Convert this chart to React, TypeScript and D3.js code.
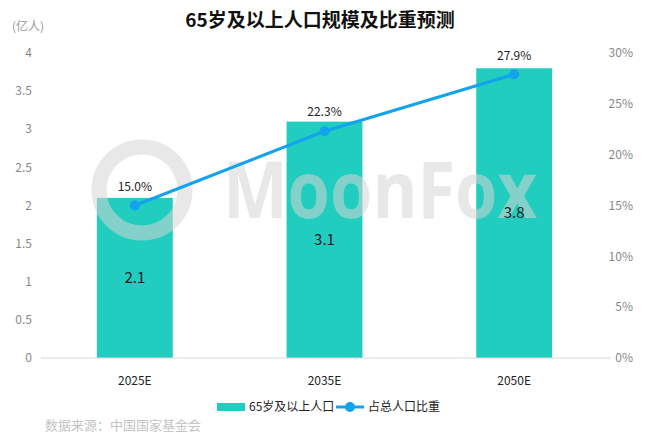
import * as d3 from "d3";

const categories = ["2025E", "2035E", "2050E"];
const population = [2.1, 3.1, 3.8]; // 亿人
const share = [15.0, 22.3, 27.9]; // %
const leftTicks = [0, 0.5, 1, 1.5, 2, 2.5, 3, 3.5, 4];
const rightTicks = [0, 5, 10, 15, 20, 25, 30];

const W = 651;
const H = 442;
const BAR = "#21cdbf";
const LINE = "#12a2ee";
const FONT = "'Noto Sans CJK SC', 'Open Sans', sans-serif";

export default function App() {
  const x = d3.scaleBand<string>().domain(categories).range([40, 609]).paddingInner(0.6).paddingOuter(0.3);
  const yL = d3.scaleLinear().domain([0, 4]).range([358, 53]);
  const yR = d3.scaleLinear().domain([0, 30]).range([358, 53]);
  const cx = (c: string) => (x(c) ?? 0) + x.bandwidth() / 2;

  const line = d3
    .line<number>()
    .x((_, i) => cx(categories[i]))
    .y((d) => yR(d));

  return (
    <svg
      width={W}
      height={H}
      style={{ position: "absolute", left: 0, top: 0, fontFamily: FONT }}
    >
      <rect width={W} height={H} fill="#fff" />

      <text x={320} y={27} textAnchor="middle" fontSize={19} fontWeight="bold" fill="#111">
        65岁及以上人口规模及比重预测
      </text>
      <text x={12} y={31} fontSize={12} fill="#999">
        (亿人)
      </text>

      {/* left axis */}
      {leftTicks.map((t) => (
        <text key={"l" + t} x={32} y={yL(t)} dy="0.35em" textAnchor="end" fontSize={12} fill="#888">
          {t}
        </text>
      ))}
      {/* right axis */}
      {rightTicks.map((t) => (
        <text key={"r" + t} x={633} y={yR(t)} dy="0.35em" textAnchor="end" fontSize={12} fill="#888">
          {t}%
        </text>
      ))}

      {/* bars */}
      {categories.map((c, i) => (
        <rect
          key={c}
          x={x(c)}
          y={yL(population[i])}
          width={x.bandwidth()}
          height={yL(0) - yL(population[i])}
          fill={BAR}
        />
      ))}

      {/* watermark */}
      <g opacity={0.55} pointerEvents="none">
        <circle cx={142} cy={190} r={43} fill="none" stroke="#d6d6d6" strokeWidth={15} />
        <text
          x={223}
          y={218}
          fontSize={78}
          fontWeight="bold"
          fontFamily="'Open Sans', sans-serif"
          fill="#d6d6d6"
          textLength={314}
          lengthAdjust="spacingAndGlyphs"
        >
          MoonFox
        </text>
      </g>

      <line x1={41} x2={611} y1={yL(0)} y2={yL(0)} stroke="#d9d9d9" />

      {/* bar labels */}
      {categories.map((c, i) => (
        <text
          key={"bl" + c}
          x={cx(c)}
          y={(yL(population[i]) + yL(0)) / 2}
          dy="0.35em"
          textAnchor="middle"
          fontSize={15}
          fill="#222"
        >
          {population[i].toFixed(1)}
        </text>
      ))}

      {/* x labels */}
      {categories.map((c) => (
        <text key={"x" + c} x={cx(c)} y={381} dy="0.35em" textAnchor="middle" fontSize={12} fill="#222">
          {c}
        </text>
      ))}

      {/* share line */}
      <path d={line(share) ?? ""} fill="none" stroke={LINE} strokeWidth={3} />
      {share.map((s, i) => (
        <g key={"p" + i}>
          <circle cx={cx(categories[i])} cy={yR(s)} r={5} fill={LINE} />
          <text x={cx(categories[i])} y={yR(s) - 19} dy="0.35em" textAnchor="middle" fontSize={12} fill="#222">
            {s.toFixed(1)}%
          </text>
        </g>
      ))}

      {/* legend */}
      <rect x={217} y={403} width={28} height={8} fill={BAR} />
      <text x={249} y={407} dy="0.35em" fontSize={12} fill="#222">
        65岁及以上人口
      </text>
      <line x1={336} x2={364} y1={407} y2={407} stroke={LINE} strokeWidth={3} />
      <circle cx={350} cy={407} r={5} fill={LINE} />
      <text x={368} y={407} dy="0.35em" fontSize={12} fill="#222">
        占总人口比重
      </text>

      <text x={45} y={430} fontSize={13} fill="#c4c4c4">
        数据来源：中国国家基金会
      </text>
    </svg>
  );
}
